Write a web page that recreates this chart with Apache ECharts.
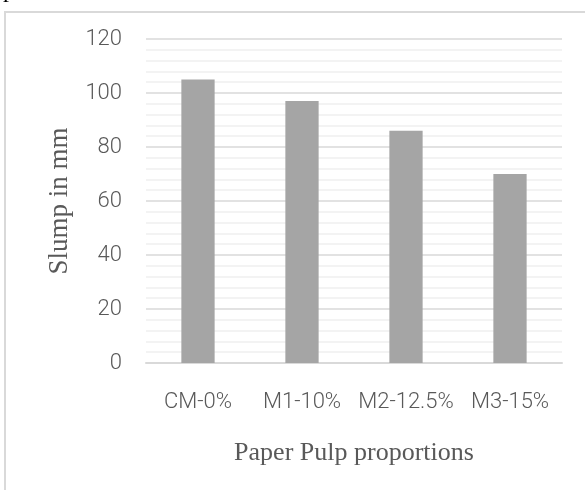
<!DOCTYPE html>
<html>
<head>
<meta charset="utf-8">
<script src="https://cdn.jsdelivr.net/npm/echarts@6/dist/echarts.min.js"></script>
<style>html,body{margin:0;padding:0;background:#fff}#c{width:585px;height:490px}</style>
</head>
<body>
<div id="c"></div>
<script>
const categories = ['CM-0%', 'M1-10%', 'M2-12.5%', 'M3-15%'];
const slumpValues = [105, 97, 86, 70];
const yTicks = { min: 0, max: 120, interval: 20 };
const xAxisTitle = 'Paper Pulp proportions';
const yAxisTitle = 'Slump in mm';
const captionText = 'per IS 1199-1959';

const chart = echarts.init(document.getElementById('c'), null, { renderer: 'canvas' });
chart.setOption({
  animation: false,
  backgroundColor: '#fff',
  graphic: [
    { type: 'rect', shape: { x: 5, y: 12, width: 700, height: 600 },
      style: { fill: 'none', stroke: '#d9d9d9', lineWidth: 2 }, z: -1 },
    { type: 'text', x: 3, y: -21,
      style: { text: captionText, fill: '#000', fontFamily: 'Liberation Serif', fontSize: 24 } }
  ],
  grid: { left: 146, right: 23, top: 39, bottom: 127, containLabel: false },
  xAxis: {
    type: 'category',
    data: categories,
    name: xAxisTitle,
    nameLocation: 'middle',
    nameGap: 77,
    nameTextStyle: { fontFamily: 'Liberation Serif', fontSize: 26, color: '#595959' },
    axisLine: { lineStyle: { color: '#d9d9d9', width: 2 } },
    axisTick: { show: false },
    axisLabel: { fontFamily: 'Roboto', fontSize: 22, fontWeight: 300, color: '#595959', margin: 28, interval: 0 }
  },
  yAxis: {
    type: 'value',
    min: yTicks.min, max: yTicks.max, interval: yTicks.interval,
    name: yAxisTitle,
    nameLocation: 'middle',
    nameGap: 73,
    nameTextStyle: { fontFamily: 'Liberation Serif', fontSize: 27, color: '#595959' },
    axisLine: { show: false },
    axisTick: { show: false },
    axisLabel: { fontFamily: 'Roboto', fontSize: 22, fontWeight: 300, color: '#595959', margin: 24 },
    splitLine: { lineStyle: { color: '#d9d9d9', width: 1.5 } },
    minorTick: { show: false, splitNumber: 5 },
    minorSplitLine: { show: true, lineStyle: { color: '#efefef', width: 1.5 } }
  },
  series: [{
    type: 'bar',
    data: slumpValues,
    barWidth: '32%',
    itemStyle: { color: '#a5a5a5' }
  }]
});
</script>
</body>
</html>
